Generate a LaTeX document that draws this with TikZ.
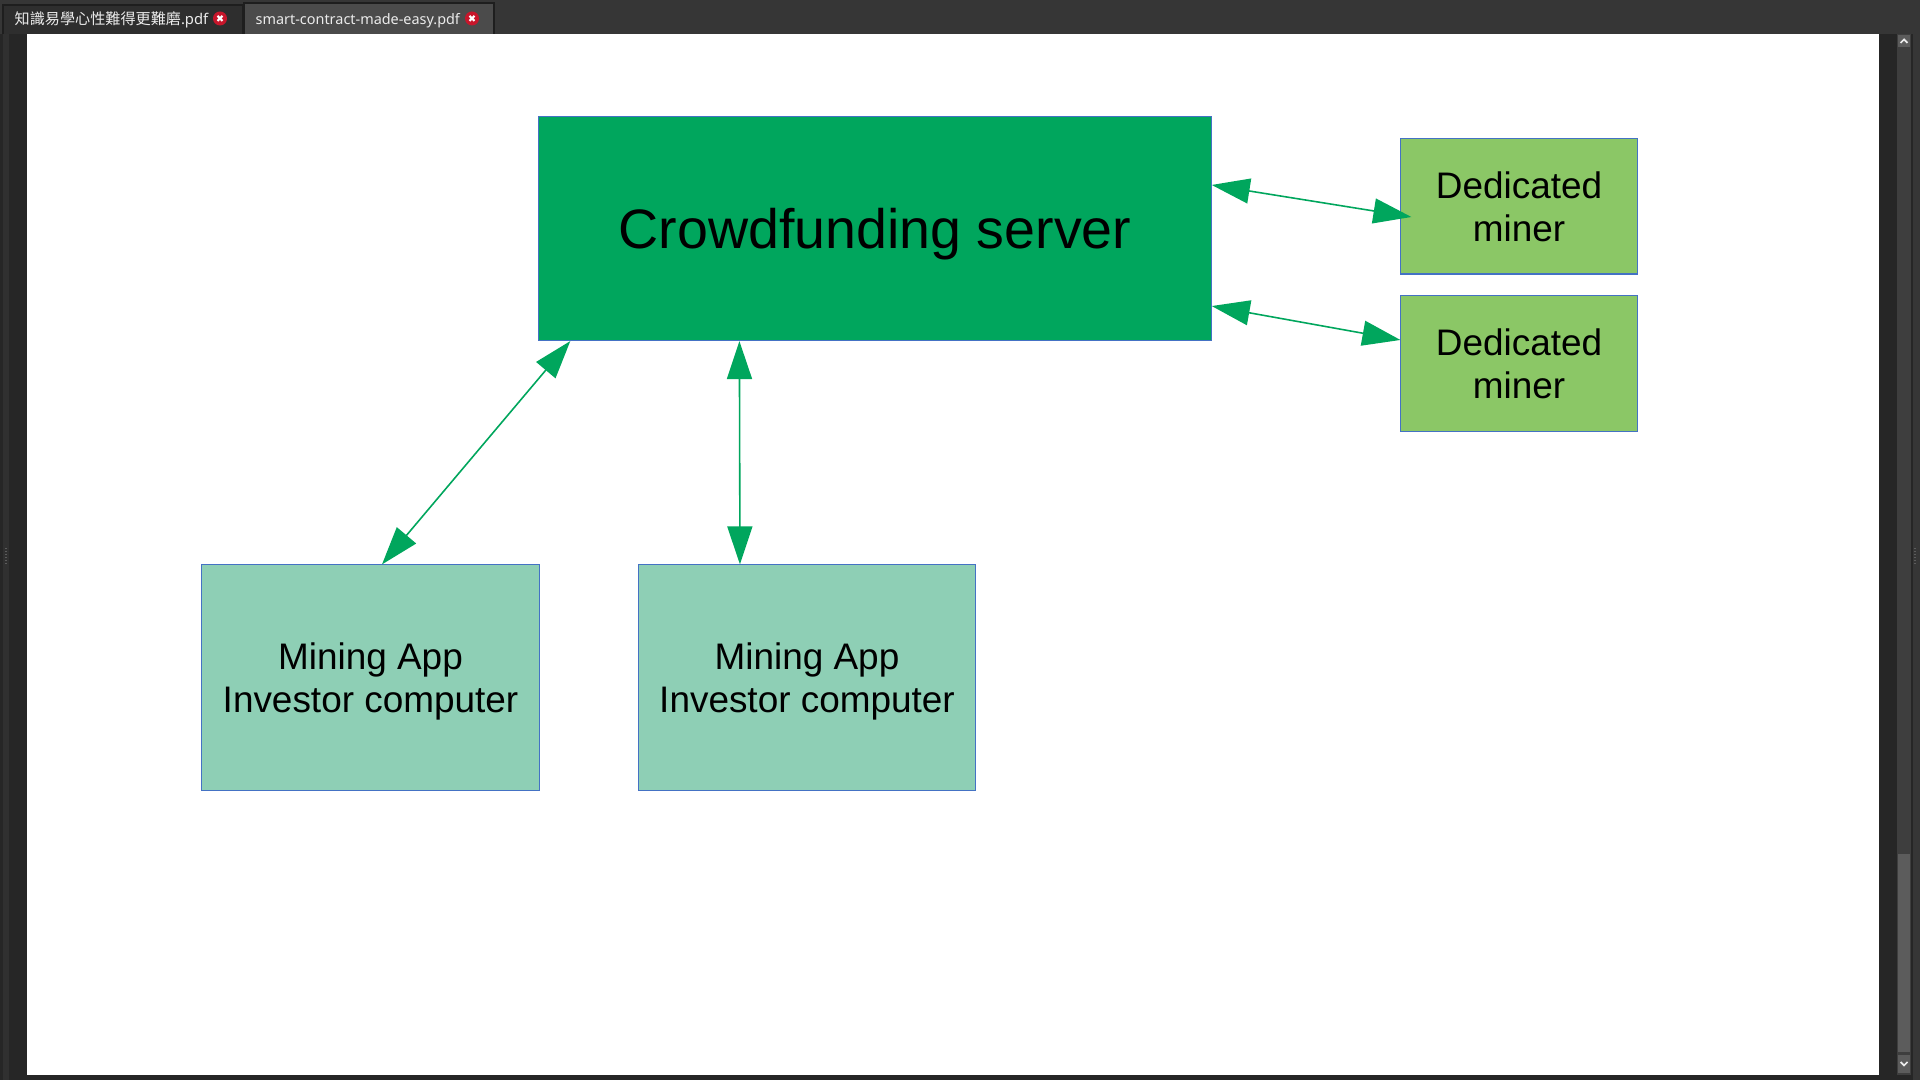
\documentclass[tikz,border=0pt]{standalone}
\usepackage{fontspec}
\setmainfont{Liberation Sans}
\newfontfamily\cjk{Noto Sans CJK TC}
\newfontfamily\uifont{Noto Sans}
\usetikzlibrary{arrows.meta}

\definecolor{serverfill}{RGB}{0,166,93}
\definecolor{minerfill}{RGB}{139,199,102}
\definecolor{appfill}{RGB}{142,207,181}
\definecolor{boxline}{RGB}{68,114,196}
\definecolor{uidark}{RGB}{38,38,38}
\definecolor{uibar}{RGB}{54,54,54}
\definecolor{uistrip}{RGB}{48,48,48}
\definecolor{tabdark}{RGB}{46,46,46}
\definecolor{tablight}{RGB}{75,75,75}
\definecolor{tabedge}{RGB}{30,30,30}
\definecolor{tabred}{RGB}{199,22,43}
\definecolor{uitext}{RGB}{235,235,235}
\definecolor{scrolltrack}{RGB}{62,62,62}
\definecolor{scrollthumb}{RGB}{92,92,92}

\begin{document}
\begin{tikzpicture}[x=0.01cm,y=-0.01cm]
        \tikzstyle{every node}+=[inner sep=0pt]
        \tikzstyle{box}=[draw=boxline, line width=0.3pt, align=center, text=black, text depth=0pt]
        \tikzstyle{link}=[draw=serverfill, line width=0.45pt, {Triangle[length=0.38cm,width=0.25cm]}-{Triangle[length=0.38cm,width=0.25cm]}]
        \useasboundingbox (0,0) rectangle (1920,1080);
        % window around the page
        \fill [uidark] (0,0) rectangle (1920,1080);
        \fill [uibar] (0,0) rectangle (1920,34);
        \fill [tabdark] (3,5) rectangle (243,34);
        \draw [tabedge, line width=0.4pt] (3,34) -- (3,5) -- (243,5) -- (243,34);
        \fill [tablight] (244,3) rectangle (494,34);
        \draw [tabedge, line width=0.4pt] (244,34) -- (244,3) -- (494,3) -- (494,34);
        \node [anchor=base west, text=uitext, font=\cjk\fontsize{4.3}{5}\selectfont] (tabA) at (14,25) {知識易學心性難得更難磨{\uifont\fontsize{4.2}{5}\selectfont.pdf}};
        \node [anchor=base west, text=uitext, font=\uifont\fontsize{4.1}{5}\selectfont] (tabB) at (255,24.5) {smart-contract-made-easy.pdf};
        \fill [tabred] (220,18.5) circle [radius=0.07cm];
        \draw [white, line width=0.6pt] (217.5,16) -- (222.5,21) (217.5,21) -- (222.5,16);
        \fill [tabred] (472,18.5) circle [radius=0.07cm];
        \draw [white, line width=0.6pt] (469.5,16) -- (474.5,21) (469.5,21) -- (474.5,16);
        \fill [uistrip] (3,34) rectangle (9,1080);
        \fill [white] (27,34) rectangle (1879,1075);
        \fill [scrolltrack] (1897,34) rectangle (1911,1075);
        \fill [uibar] (1913,34) rectangle (1920,1080);
        \fill [scrollthumb] (1898,35) rectangle (1910,47);
        \draw [uitext, line width=0.5pt] (1900.5,43) -- (1904,39.5) -- (1907.5,43);
        \fill [scrollthumb] (1898,854) rectangle (1910,1052);
        \fill [scrollthumb] (1898,1055) rectangle (1910,1073);
        \draw [uitext, line width=0.5pt] (1900.5,1062) -- (1904,1065.5) -- (1907.5,1062);
        \foreach \y in {548,551,...,563} {
          \fill [scrollthumb] (1914,\y) rectangle (1916,\y+1.5);
          \fill [scrollthumb] (5,\y) rectangle (7,\y+1.5);
        }
        % boxes
        \node [box, fill=serverfill, minimum width=6.72cm, minimum height=2.24cm, font=\fontsize{15.8}{18}\selectfont] (server) at (875,228.5) {Crowdfunding server};
        \node [box, fill=minerfill, minimum width=2.36cm, minimum height=1.35cm, font=\fontsize{10.5}{12.2}\selectfont] (minerA) at (1519,206.5) {Dedicated\\miner};
        \node [box, fill=minerfill, minimum width=2.36cm, minimum height=1.35cm, font=\fontsize{10.5}{12.2}\selectfont] (minerB) at (1519,363.5) {Dedicated\\miner};
        \node [box, fill=appfill, minimum width=3.37cm, minimum height=2.25cm, font=\fontsize{10.5}{12.2}\selectfont] (appA) at (370.5,677.5) {Mining App\\Investor computer};
        \node [box, fill=appfill, minimum width=3.37cm, minimum height=2.25cm, font=\fontsize{10.5}{12.2}\selectfont] (appB) at (807,677.5) {Mining App\\Investor computer};
        % links
        \draw [link] ([yshift=0.435cm]server.east) -- ([xshift=0.11cm,yshift=-0.105cm]minerA.west);
        \draw [link] ([yshift=-0.775cm]server.east) -- ([yshift=0.235cm]minerB.west);
        \draw [link] ([xshift=0.32cm]server.south west) -- ([xshift=0.115cm]appA.north);
        \draw [link] ([xshift=2.01cm]server.south west) -- ([xshift=-0.67cm]appB.north);
\end{tikzpicture}
\end{document}
